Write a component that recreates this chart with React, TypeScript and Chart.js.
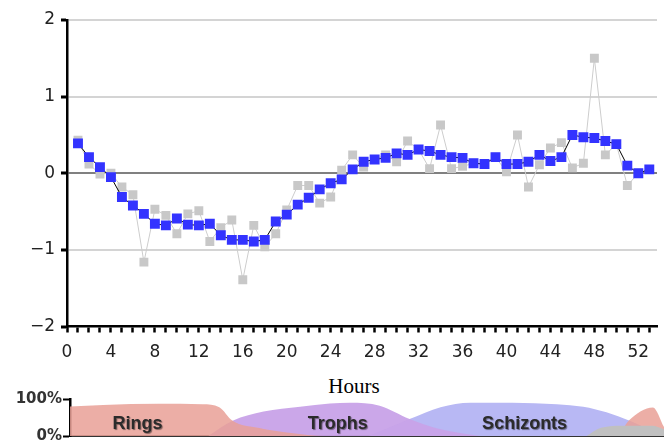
import { useEffect, useRef } from 'react';
import { Chart, registerables } from 'chart.js';

Chart.register(...registerables);

// Main panel: hours and values
const hours = [
  1, 2, 3, 4, 5, 6, 7, 8, 9, 10, 11, 12, 13, 14, 15, 16, 17, 18, 19, 20,
  21, 22, 23, 24, 25, 26, 27, 28, 29, 30, 31, 32, 33, 34, 35, 36, 37, 38, 39, 40,
  41, 42, 43, 44, 45, 46, 47, 48, 49, 50, 51, 52, 53,
];
const smoothedValues = [
  0.39, 0.21, 0.08, -0.05, -0.31, -0.42, -0.53, -0.66, -0.68, -0.59,
  -0.67, -0.68, -0.66, -0.81, -0.87, -0.87, -0.89, -0.87, -0.63, -0.54,
  -0.41, -0.32, -0.21, -0.13, -0.08, 0.05, 0.15, 0.18, 0.2, 0.26,
  0.24, 0.31, 0.29, 0.24, 0.21, 0.2, 0.13, 0.12, 0.21, 0.12,
  0.12, 0.15, 0.24, 0.16, 0.21, 0.5, 0.47, 0.46, 0.42, 0.38,
  0.1, 0.0, 0.05,
];
const rawValues = [
  0.43, 0.12, -0.01, 0.0, -0.18, -0.28, -1.16, -0.47, -0.55, -0.79,
  -0.53, -0.49, -0.89, -0.71, -0.61, -1.39, -0.68, -0.96, -0.79, -0.48,
  -0.16, -0.16, -0.39, -0.31, 0.04, 0.24, 0.08, 0.18, 0.24, 0.15,
  0.42, 0.31, 0.06, 0.63, 0.06, 0.09, 0.13, 0.12, 0.21, 0.02,
  0.5, -0.18, 0.11, 0.33, 0.4, 0.07, 0.13, 1.5, 0.24, 0.38,
  -0.16, 0.0, 0.05,
];
const xMin = 0;
const xMax = 53.7;
const xLabelEvery = 4;
const yMin = -2;
const yMax = 2;

// Stage panel (percent of parasites in each stage)
const ringsHours = [0, 3, 8, 12, 13.5, 14.7, 17, 20, 23, 49.5, 50.5, 52.7, 53.7];
const ringsPct = [80, 84, 87, 86, 78, 41, 22, 8, 0, 0, 41, 77, 24];
const trophsHours = [12.5, 14.7, 17.5, 20.8, 23.5, 25.3, 28, 30.7, 33.5, 37];
const trophsPct = [0, 41, 66, 79, 88, 90, 82, 46, 18, 0];
const schizontsHours = [27, 30.7, 33.5, 36.2, 40, 44, 46.4, 48.5, 50.6, 52.5, 53.7];
const schizontsPct = [0, 46, 78, 90, 90, 86, 79, 64, 41, 16, 5];
const otherHours = [46.7, 48, 50, 52.7, 53.7];
const otherPct = [0, 22, 28, 28, 18];
const stageNames = ['Rings', 'Trophs', 'Schizonts'];
const stageLabelHours = [6.1, 24.2, 41.1];
const stageLabelPct = [20, 20, 20];

const zip = (xs: number[], ys: number[]) => xs.map((x, i) => ({ x, y: ys[i] }));

const stageLabelPlugin = {
  id: 'stageLabels',
  afterDatasetsDraw(chart: any) {
    const { ctx, scales } = chart;
    const xs = scales.x;
    const ys = scales.y;
    ctx.save();
    ctx.font = "bold 18px 'Liberation Sans', Arial, sans-serif";
    ctx.textAlign = 'center';
    ctx.textBaseline = 'alphabetic';
    ctx.shadowColor = 'rgba(0,0,0,0.45)';
    ctx.shadowOffsetX = 1;
    ctx.shadowOffsetY = 1;
    ctx.shadowBlur = 1;
    ctx.fillStyle = '#2b2b2b';
    stageNames.forEach((name, i) => {
      ctx.fillText(name, xs.getPixelForValue(stageLabelHours[i]), ys.getPixelForValue(stageLabelPct[i]));
    });
    ctx.restore();
  },
};

export default function App() {
  const mainRef = useRef<HTMLCanvasElement>(null);
  const stageRef = useRef<HTMLCanvasElement>(null);

  useEffect(() => {
    const tickFont = { family: "'DejaVu Sans', sans-serif", size: 17 };
    const main = new Chart(mainRef.current as HTMLCanvasElement, {
      type: 'line',
      data: {
        datasets: [
          {
            label: 'Smoothed',
            data: zip(hours, smoothedValues),
            borderColor: '#000000',
            borderWidth: 1,
            pointStyle: 'rect',
            pointRadius: 7,
            pointBackgroundColor: '#3333ff',
            pointBorderWidth: 0,
            tension: 0,
          },
          {
            label: 'Raw',
            data: zip(hours, rawValues),
            borderColor: '#cdcdcd',
            borderWidth: 1,
            pointStyle: 'rect',
            pointRadius: 6.3,
            pointBackgroundColor: '#c8c8c8',
            pointBorderWidth: 0,
            tension: 0,
          },
        ],
      },
      options: {
        responsive: false,
        animation: false,
        events: [],
        layout: { padding: { top: 20, right: 2, left: 0, bottom: 0 } },
        plugins: { legend: { display: false }, tooltip: { enabled: false } },
        scales: {
          x: {
            type: 'linear',
            min: xMin,
            max: xMax,
            afterFit: (s: any) => {
              s.height = 35.5;
            },
            grid: { drawOnChartArea: false, tickLength: 6, tickColor: '#000', tickWidth: 2.5 },
            border: { color: '#000', width: 2.5 },
            ticks: {
              stepSize: 1,
              autoSkip: false,
              includeBounds: false,
              maxRotation: 0,
              padding: 10,
              font: tickFont,
              color: '#222',
              callback: (v: any) => (Number(v) % xLabelEvery === 0 ? String(v) : ''),
            },
          },
          y: {
            min: yMin,
            max: yMax,
            afterFit: (s: any) => {
              s.width = 67;
            },
            ticks: {
              stepSize: 1,
              padding: 6,
              font: tickFont,
              color: '#222',
              callback: (v: any) => (Number(v) < 0 ? '\u2212' + Math.abs(Number(v)) : String(v)),
            },
            grid: {
              color: (c: any) =>
                c.tick && c.tick.value === 0 ? '#808080' : c.tick && c.tick.value === yMin ? 'rgba(0,0,0,0)' : '#d4d4d4',
              lineWidth: 2,
              tickColor: '#000',
              tickLength: 6,
              tickWidth: 3,
            },
            border: { color: '#000', width: 2.5 },
          },
        },
      },
    } as any);

    const area = (data: any, color: string) => ({
      data,
      fill: 'origin',
      backgroundColor: color,
      borderColor: 'rgba(0,0,0,0)',
      borderWidth: 0,
      pointRadius: 0,
      cubicInterpolationMode: 'monotone',
    });

    const stage = new Chart(stageRef.current as HTMLCanvasElement, {
      type: 'line',
      data: {
        datasets: [
          { label: 'Other', ...area(zip(otherHours, otherPct), 'rgba(192,192,192,1)') },
          { label: 'Rings', ...area(zip(ringsHours, ringsPct), 'rgba(233,160,150,0.85)') },
          { label: 'Trophs', ...area(zip(trophsHours, trophsPct), 'rgba(200,162,232,0.95)') },
          { label: 'Schizonts', ...area(zip(schizontsHours, schizontsPct), 'rgba(184,184,244,1)') },
        ],
      },
      options: {
        responsive: false,
        animation: false,
        events: [],
        layout: { padding: { top: 11, right: 0, left: 0, bottom: 0 } },
        plugins: { legend: { display: false }, tooltip: { enabled: false } },
        scales: {
          x: {
            type: 'linear',
            min: xMin,
            max: xMax,
            afterFit: (s: any) => {
              s.height = 8;
            },
            ticks: { display: false },
            grid: { display: false },
            border: { color: '#333', width: 2 },
          },
          y: {
            min: 0,
            max: 100,
            afterFit: (s: any) => {
              s.width = 70;
            },
            ticks: {
              stepSize: 100,
              padding: 1,
              font: { family: "'DejaVu Sans', sans-serif", size: 15, weight: 'bold' },
              color: '#333',
              callback: (v: any) => v + '%',
            },
            grid: { drawOnChartArea: false, tickLength: 7, tickColor: '#000', tickWidth: 2 },
            border: { color: '#000', width: 2.5 },
          },
        },
      },
      plugins: [stageLabelPlugin],
    } as any);

    return () => {
      main.destroy();
      stage.destroy();
    };
  }, []);

  return (
    <div style={{ position: 'absolute', left: 0, top: 0, width: 664, height: 446, background: '#fff', overflow: 'hidden' }}>
      <canvas ref={mainRef} width={664} height={362} style={{ position: 'absolute', left: 0, top: 0 }} />
      <div
        style={{
          position: 'absolute',
          left: 0,
          top: 374,
          width: 708,
          textAlign: 'center',
          fontFamily: "'Liberation Serif', 'Times New Roman', serif",
          fontSize: 21,
          lineHeight: '24px',
          color: '#000',
        }}
      >
        Hours
      </div>
      <canvas ref={stageRef} width={664} height={58} style={{ position: 'absolute', left: 0, top: 388 }} />
    </div>
  );
}
